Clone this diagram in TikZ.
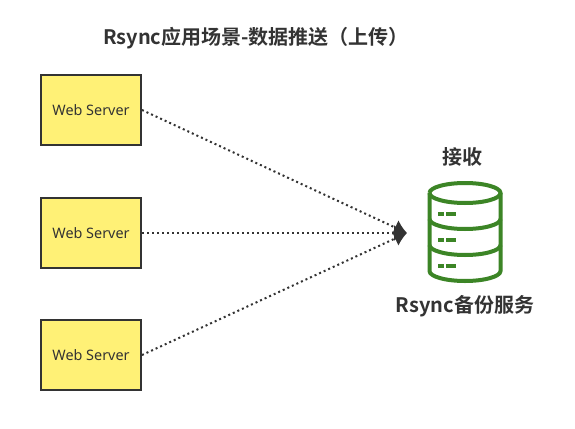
\documentclass[tikz,border=0pt]{standalone}
\usepackage{fontspec}
\usepackage{tikz}
\usetikzlibrary{arrows.meta,positioning,calc}
\setmainfont{Noto Sans}
\newfontfamily\cjk{Noto Sans CJK SC}[BoldFont={Noto Sans CJK SC Bold}]
\definecolor{inkgray}{HTML}{333333}
\definecolor{notepaper}{HTML}{FFF176}
\definecolor{dbgreen}{HTML}{3C8526}

\begin{document}
\begin{tikzpicture}[
  x=1pt, y=-1pt,
  every node/.style={inner sep=0pt, text=inkgray},
  serverbox/.style={draw=inkgray, fill=notepaper, line width=2pt,
    minimum width=100pt, minimum height=70pt, font=\fontsize{14.4}{17}\selectfont},
  headline/.style={font=\cjk\bfseries\fontsize{20}{24}\selectfont},
  dbline/.style={draw=dbgreen, line width=4pt},
  push/.style={draw=inkgray, line width=2pt, dash pattern=on 2pt off 3pt,
    -{Latex[length=13pt,width=16pt]}}]

\useasboundingbox (0,0) rectangle (575,428);
\fill[white] (0,0) rectangle (575,428);

% ---------------------------- title -----------------------------------
\node[headline] (title) at (256,38) {Rsync应用场景-数据推送（上传）};

% --------------------------- servers ----------------------------------
\node[serverbox] (web1) at (91,110) {Web Server};
\node[serverbox] (web2) at (91,233) {Web Server};
\node[serverbox] (web3) at (91,355) {Web Server};

\coordinate (recv) at (407,233);
\foreach \s in {1,2,3}{\draw[push] (web\s.east) -- (recv);}

% ------------------------- backup store -------------------------------
\node[headline] (recvlabel) at (462.5,157) {接收};
\draw[dbline] (429.5,193) arc[start angle=180, end angle=540, x radius=35.5, y radius=10];
\draw[dbline] (429.5,193) -- (429.5,271)
  arc[start angle=180, end angle=0, x radius=35.5, y radius=10] -- (500.5,193);
\foreach \h in {219,245}{
  \draw[dbline] (429.5,\h) arc[start angle=180, end angle=0, x radius=35.5, y radius=10];}
\foreach \h in {214,240,266}{
  \draw[dbline, line width=3.5pt] (438,\h) -- (444,\h);
  \draw[dbline, line width=3.5pt] (446,\h) -- (456,\h);}
\node[headline] (store) at (465,306) {Rsync备份服务};

\end{tikzpicture}
\end{document}
